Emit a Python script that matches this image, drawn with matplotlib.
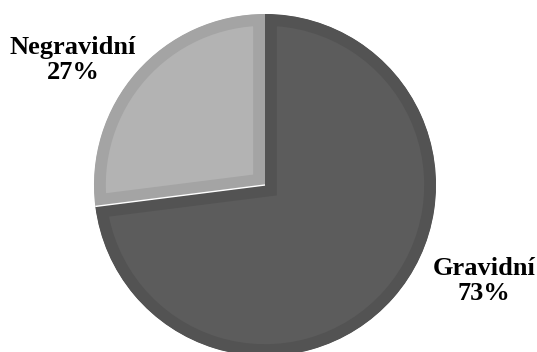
import matplotlib
matplotlib.use('Agg')
import matplotlib.pyplot as plt
import numpy as np

labels = ['Gravidní', 'Negravidní']
shares = [73, 27]
fill_colors = ['#5c5c5c', '#b3b3b3']
rim_colors = ['#535353', '#a4a4a4']

fig = plt.figure(figsize=(5.37, 3.52), dpi=100)
fig.patch.set_facecolor('white')
ax = fig.add_axes([0, 0, 1, 1])

cx, cy, r = 265, 352 - 185, 171
wedges, _ = ax.pie(shares, colors=fill_colors, startangle=90, counterclock=False,
                   center=(cx, cy), radius=r, frame=True)
ax.set_xlim(0, 537)
ax.set_ylim(0, 352)
ax.set_aspect('equal')
ax.axis('off')

# inset rim: thick edge clipped to the wedge's own outline
for w, rc in zip(wedges, rim_colors):
    w.set_edgecolor(rc)
    w.set_linewidth(17)
    w.set_clip_path(w.get_path(), w.get_transform())
    w.set_clip_on(True)

# thin white seam on the lower split
ang = np.deg2rad(90 - 360 * shares[0] / sum(shares))
ax.plot([cx, cx + r * np.cos(ang)], [cy, cy + r * np.sin(ang)],
        color='white', lw=1.0, solid_capstyle='butt')

font = dict(family='Liberation Serif', fontweight='bold', fontsize=19,
            ha='center', va='center', linespacing=1.1, color='black')
ax.text(484, 352 - 281, f'{labels[0]}\n{shares[0]}%', **font)
ax.text(73, 352 - 60, f'{labels[1]}\n{shares[1]}%', **font)

plt.savefig('out.png', dpi=100, facecolor='white')
